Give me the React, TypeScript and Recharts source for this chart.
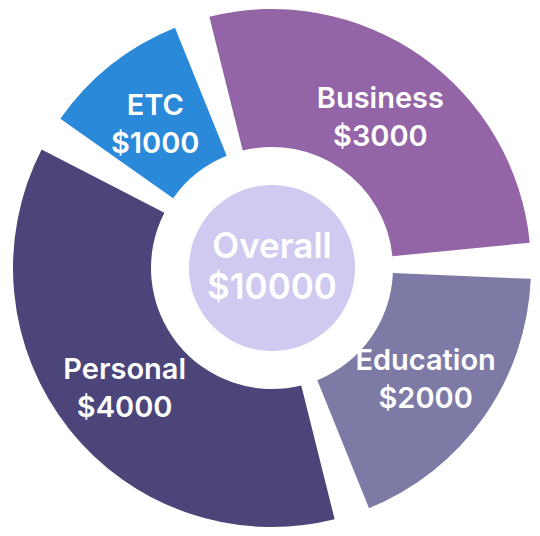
import { PieChart, Pie, Cell } from "recharts"

const categories = ["Business", "Education", "Personal", "ETC"]
const amounts = [3000, 2000, 4000, 1000]
const COLORS = ["#9365a7", "#7d7ba6", "#4b4579", "#2a89d8"]

const overallLabel = "Overall"
const overallTotal = amounts.reduce((a, b) => a + b, 0)

const data = categories.map((name, i) => ({ name, value: amounts[i] }))
const centerData = [{ name: overallLabel, value: overallTotal }]

const RADIAN = Math.PI / 180
const FONT = "Inter, 'Noto Sans', sans-serif"

const SliceLabel = ({ cx, cy, midAngle, name, value }: any) => {
  const r = 188
  const x = cx + r * Math.cos(-midAngle * RADIAN)
  const y = cy + r * Math.sin(-midAngle * RADIAN)
  return (
    <text
      textAnchor="middle"
      fill="#ffffff"
      fontFamily={FONT}
      fontSize={29}
      fontWeight={600}
    >
      <tspan x={x} y={y - 6}>{name}</tspan>
      <tspan x={x} y={y + 32}>${value}</tspan>
    </text>
  )
}

const CenterLabel = ({ cx, cy, name, value }: any) => (
  <text
    textAnchor="middle"
    fill="#ffffff"
    fontFamily={FONT}
    fontSize={35}
    fontWeight={600}
  >
    <tspan x={cx} y={cy - 10}>{name}</tspan>
    <tspan x={cx} y={cy + 31}>${value}</tspan>
  </text>
)

export default function App() {
  return (
    <div style={{ width: 532, height: 528 }}>
      <PieChart width={532} height={528} margin={{ top: 0, right: 0, bottom: 0, left: 0 }}>
        <Pie
          data={data}
          dataKey="value"
          nameKey="name"
          cx={264}
          cy={260}
          innerRadius={121}
          outerRadius={259}
          startAngle={104}
          endAngle={-256}
          paddingAngle={8}
          stroke="none"
          label={SliceLabel}
          labelLine={false}
          isAnimationActive={false}
        >
          {data.map((entry, index) => (
            <Cell key={`cell-${index}`} fill={COLORS[index % COLORS.length]} />
          ))}
        </Pie>
        <Pie
          data={centerData}
          dataKey="value"
          nameKey="name"
          cx={264}
          cy={260}
          innerRadius={0}
          outerRadius={83}
          startAngle={90}
          endAngle={-270}
          stroke="none"
          fill="#d0c9f0"
          label={CenterLabel}
          labelLine={false}
          isAnimationActive={false}
        />
      </PieChart>
    </div>
  )
}
